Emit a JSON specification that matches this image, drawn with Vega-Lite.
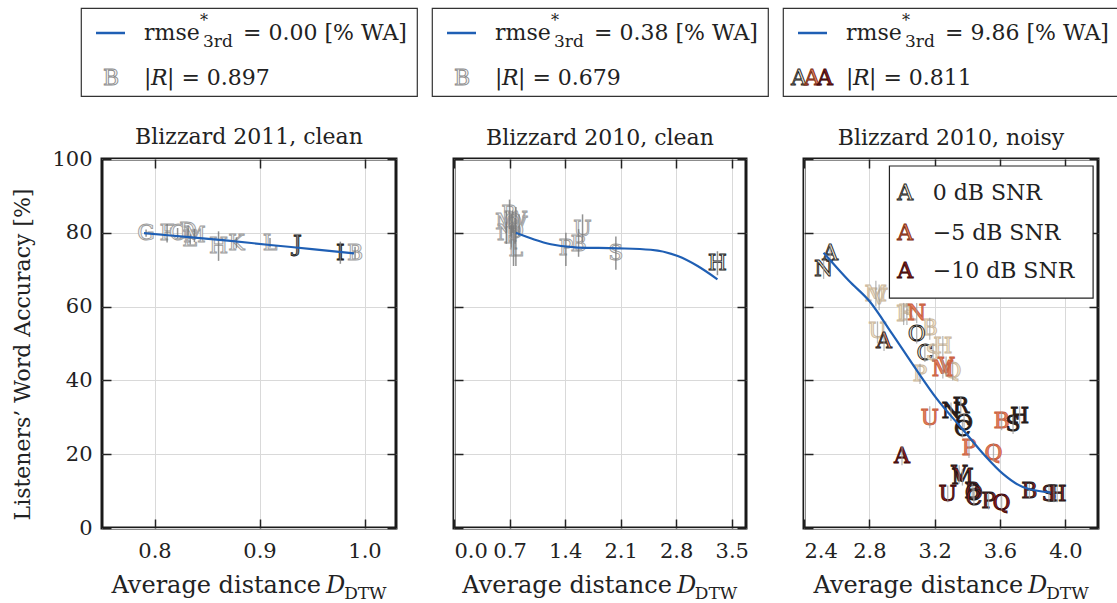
{
"$schema": "https://vega.github.io/schema/vega-lite/v6.json",
"autosize": {"type": "pad"},
"padding": {"left": 10, "top": 7, "right": 0, "bottom": 4},
"background": "white",
"config": {
  "font": "DejaVu Serif",
  "view": {"stroke": "#1a1a1a", "strokeWidth": 3},
  "axis": {"labelFont": "DejaVu Serif", "labelFontSize": 21, "labelColor": "#222", "tickColor": "#222", "tickWidth": 1.5, "tickSize": -9, "domain": false, "gridColor": "#d9d9d9", "gridWidth": 1, "titleFont": "DejaVu Serif", "titleFontSize": 22, "titleFontWeight": "normal", "titleColor": "#222", "labelPadding": 21},
  "title": {"font": "DejaVu Serif", "fontSize": 22, "fontWeight": "normal", "color": "#222", "offset": 8},
  "text": {"font": "DejaVu Serif", "color": "#222"}
},
"datasets": {
  "one": [{}],
  "p1": [
    {"s":"G","d":0.792,"wa":79.9,"lo":78.9,"hi":80.9,"f":"w","e":"lg"},
    {"s":"F","d":0.812,"wa":79.9,"lo":77.4,"hi":82.4,"f":"w","e":"lg"},
    {"s":"C","d":0.822,"wa":79.9,"lo":78.5,"hi":81.3,"f":"w","e":"lg"},
    {"s":"D","d":0.832,"wa":80.4,"lo":78.8,"hi":82.0,"f":"w","e":"lg"},
    {"s":"E","d":0.834,"wa":78.2,"lo":76.8,"hi":79.6,"f":"w","e":"lg"},
    {"s":"M","d":0.838,"wa":79.3,"lo":77.5,"hi":81.1,"f":"w","e":"lg"},
    {"s":"H","d":0.861,"wa":76.4,"lo":72.4,"hi":80.4,"f":"w","e":"lg"},
    {"s":"K","d":0.878,"wa":77.3,"lo":75.8,"hi":78.8,"f":"w","e":"lg"},
    {"s":"L","d":0.910,"wa":77.3,"lo":76.0,"hi":78.6,"f":"w","e":"lg"},
    {"s":"J","d":0.936,"wa":76.9,"lo":74.4,"hi":79.4,"f":"g","e":"dk"},
    {"s":"I","d":0.977,"wa":74.6,"lo":71.6,"hi":77.6,"f":"gd","e":"dk"},
    {"s":"B","d":0.991,"wa":74.6,"lo":73.0,"hi":76.2,"f":"w","e":"lg"}
  ],
  "p1fit": [
    {"d":0.79,"wa":79.9},{"d":0.83,"wa":78.9},{"d":0.87,"wa":77.9},{"d":0.91,"wa":76.7},{"d":0.95,"wa":75.6},{"d":0.99,"wa":74.4}
  ],
  "p2": [
    {"s":"R","d":0.70,"wa":85.0,"lo":81,"hi":89,"f":"w","e":"lg"},
    {"s":"W","d":0.78,"wa":83.5,"lo":80,"hi":87,"f":"w","e":"lg"},
    {"s":"V","d":0.82,"wa":82.0,"lo":79,"hi":85,"f":"w","e":"lg"},
    {"s":"M","d":0.66,"wa":83.0,"lo":80,"hi":86,"f":"w","e":"lg"},
    {"s":"N","d":0.66,"wa":80.0,"lo":77,"hi":83,"f":"w","e":"lg"},
    {"s":"C","d":0.72,"wa":82.0,"lo":79,"hi":85,"f":"w","e":"lg"},
    {"s":"O","d":0.77,"wa":80.5,"lo":77,"hi":84,"f":"w","e":"lg"},
    {"s":"Q","d":0.74,"wa":83.0,"lo":80,"hi":86,"f":"w","e":"lg"},
    {"s":"F","d":0.72,"wa":79.0,"lo":76,"hi":82,"f":"w","e":"lg"},
    {"s":"I","d":0.75,"wa":77.5,"lo":71,"hi":82,"f":"w","e":"lg"},
    {"s":"L","d":0.78,"wa":75.5,"lo":71,"hi":80,"f":"w","e":"lg"},
    {"s":"P","d":1.41,"wa":75.9,"lo":71,"hi":80,"f":"w","e":"lg"},
    {"s":"B","d":1.57,"wa":77.0,"lo":73.5,"hi":81,"f":"w","e":"lg"},
    {"s":"U","d":1.62,"wa":81.0,"lo":77.5,"hi":85,"f":"w","e":"lg"},
    {"s":"S","d":2.04,"wa":74.5,"lo":70,"hi":79,"f":"w","e":"lg"},
    {"s":"H","d":3.32,"wa":71.8,"lo":68.5,"hi":75,"f":"w","e":"dk"}
  ],
  "p2fit": [
    {"d":0.78,"wa":80.0},{"d":1.01,"wa":78.2},{"d":1.22,"wa":76.9},{"d":1.56,"wa":76.0},{"d":2.06,"wa":75.8},{"d":2.48,"wa":75.4},{"d":2.82,"wa":73.7},{"d":3.07,"wa":71.0},{"d":3.32,"wa":67.4}
  ],
  "p3": [
    {"s":"A","d":2.56,"wa":74.6,"lo":72,"hi":77,"f":"b0","e":"dk"},
    {"s":"N","d":2.52,"wa":70.1,"lo":67.5,"hi":72.5,"f":"b0","e":"dk"},
    {"s":"M","d":2.84,"wa":63.4,"lo":60,"hi":67,"f":"b0","e":"lb"},
    {"s":"V","d":2.86,"wa":62.5,"lo":59,"hi":66,"f":"b0","e":"lb"},
    {"s":"F","d":3.01,"wa":58.0,"lo":55,"hi":61,"f":"b0","e":"lb"},
    {"s":"R","d":3.03,"wa":58.3,"lo":55,"hi":61,"f":"b0","e":"lb"},
    {"s":"B","d":3.17,"wa":54.2,"lo":51,"hi":57,"f":"b0","e":"lb"},
    {"s":"U","d":2.85,"wa":53.4,"lo":50,"hi":56,"f":"b0","e":"lb"},
    {"s":"O","d":3.09,"wa":52.6,"lo":50,"hi":55,"f":"b0","e":"dk"},
    {"s":"C","d":3.14,"wa":47.4,"lo":45,"hi":50,"f":"b0","e":"dk"},
    {"s":"S","d":3.19,"wa":47.4,"lo":45,"hi":50,"f":"b0","e":"lb"},
    {"s":"H","d":3.25,"wa":49.3,"lo":46.5,"hi":52,"f":"b0","e":"lb"},
    {"s":"P","d":3.11,"wa":41.7,"lo":39,"hi":44.5,"f":"b0","e":"lb"},
    {"s":"Q","d":3.31,"wa":42.5,"lo":40,"hi":45,"f":"b0","e":"lb"},
    {"s":"A","d":2.89,"wa":50.7,"lo":48,"hi":53,"f":"o5","e":"dk"},
    {"s":"N","d":3.09,"wa":58.3,"lo":55.5,"hi":61,"f":"o5","e":"lo"},
    {"s":"M","d":3.25,"wa":43.1,"lo":40.5,"hi":45.5,"f":"o5","e":"lo"},
    {"s":"V","d":3.27,"wa":43.9,"lo":41,"hi":46.5,"f":"o5","e":"lo"},
    {"s":"U","d":3.17,"wa":29.9,"lo":27,"hi":33,"f":"o5","e":"lo"},
    {"s":"P","d":3.41,"wa":21.8,"lo":19,"hi":24.5,"f":"o5","e":"lo"},
    {"s":"Q","d":3.56,"wa":20.4,"lo":18,"hi":23,"f":"o5","e":"lo"},
    {"s":"B","d":3.61,"wa":29.0,"lo":26.5,"hi":31.5,"f":"o5","e":"lo"},
    {"s":"R","d":3.36,"wa":33.0,"lo":30.5,"hi":35.5,"f":"k","e":"dk"},
    {"s":"O","d":3.38,"wa":28.5,"lo":26,"hi":31,"f":"k","e":"dk"},
    {"s":"C","d":3.37,"wa":26.8,"lo":24.5,"hi":29,"f":"k","e":"dk"},
    {"s":"S","d":3.68,"wa":28.1,"lo":25.5,"hi":30.5,"f":"k","e":"dk"},
    {"s":"H","d":3.72,"wa":30.4,"lo":28,"hi":33,"f":"k","e":"dk"},
    {"s":"N","d":3.30,"wa":31.7,"lo":29,"hi":34,"f":"k","e":"dk"},
    {"s":"A","d":3.00,"wa":19.5,"lo":17,"hi":22,"f":"r10","e":"dr"},
    {"s":"V","d":3.35,"wa":14.5,"lo":12,"hi":17,"f":"r10","e":"dk"},
    {"s":"M","d":3.37,"wa":13.8,"lo":11.5,"hi":16,"f":"r10","e":"dk"},
    {"s":"U","d":3.28,"wa":9.2,"lo":7,"hi":11.5,"f":"r10","e":"dr"},
    {"s":"B","d":3.43,"wa":10.0,"lo":8,"hi":12,"f":"r10","e":"dk"},
    {"s":"O","d":3.44,"wa":9.5,"lo":7.5,"hi":11.5,"f":"r10","e":"dk"},
    {"s":"C","d":3.44,"wa":8.2,"lo":6,"hi":10.5,"f":"r10","e":"dk"},
    {"s":"P","d":3.53,"wa":7.3,"lo":5,"hi":9.5,"f":"r10","e":"dk"},
    {"s":"Q","d":3.61,"wa":6.9,"lo":5,"hi":9,"f":"r10","e":"dr"},
    {"s":"B","d":3.78,"wa":10.0,"lo":8,"hi":12,"f":"r10","e":"dk"},
    {"s":"S","d":3.90,"wa":9.2,"lo":7,"hi":11.5,"f":"r10","e":"dk"},
    {"s":"I","d":3.93,"wa":9.2,"lo":7,"hi":11.5,"f":"r10","e":"dk"},
    {"s":"H","d":3.95,"wa":9.2,"lo":7,"hi":11.5,"f":"r10","e":"dk"}
  ],
  "p3fit": [
    {"d":2.52,"wa":74.6},{"d":2.675,"wa":67.0},{"d":2.80,"wa":61.5},{"d":2.94,"wa":52.6},{"d":3.08,"wa":43.4},{"d":3.21,"wa":35.2},{"d":3.38,"wa":26.3},{"d":3.50,"wa":20.0},{"d":3.62,"wa":14.6},{"d":3.74,"wa":11.1},{"d":3.91,"wa":9.6}
  ]
},
"spacing": 13,
"hconcat": [
 {"vconcat": [
  {"width": 336, "height": 88, "data": {"name": "one"}, "view": {"stroke": "#333", "strokeWidth": 1.2},
   "layer": [
    {"mark": {"type": "rule", "stroke": "#1f5fb4", "strokeWidth": 2.5}, "encoding": {"x": {"datum": 15, "type": "quantitative", "scale": {"domain": [0,336]}, "axis": null}, "x2": {"datum": 44}, "y": {"datum": 25, "type": "quantitative", "scale": {"domain": [0,88], "reverse": true}, "axis": null}}},
    {"mark": {"type": "text", "align": "left", "baseline": "middle", "fontSize": 22, "text": "rmse"}, "encoding": {"x": {"datum": 63, "type": "quantitative", "scale": {"domain": [0,336]}, "axis": null}, "y": {"datum": 25, "type": "quantitative", "scale": {"domain": [0,88], "reverse": true}, "axis": null}}},
    {"mark": {"type": "text", "align": "left", "baseline": "middle", "fontSize": 16, "text": "*"}, "encoding": {"x": {"datum": 119, "type": "quantitative", "scale": {"domain": [0,336]}, "axis": null}, "y": {"datum": 13, "type": "quantitative", "scale": {"domain": [0,88], "reverse": true}, "axis": null}}},
    {"mark": {"type": "text", "align": "left", "baseline": "middle", "fontSize": 17, "text": "3rd"}, "encoding": {"x": {"datum": 122, "type": "quantitative", "scale": {"domain": [0,336]}, "axis": null}, "y": {"datum": 34, "type": "quantitative", "scale": {"domain": [0,88], "reverse": true}, "axis": null}}},
    {"mark": {"type": "text", "align": "left", "baseline": "middle", "fontSize": 22, "text": "= 0.00 [% WA]"}, "encoding": {"x": {"datum": 162, "type": "quantitative", "scale": {"domain": [0,336]}, "axis": null}, "y": {"datum": 25, "type": "quantitative", "scale": {"domain": [0,88], "reverse": true}, "axis": null}}},
    {"mark": {"type": "text", "align": "center", "baseline": "middle", "fontSize": 22, "text": "B", "fill": "#f5f5f5", "stroke": "#8a8a8a", "strokeWidth": 0.9}, "encoding": {"x": {"datum": 30, "type": "quantitative", "scale": {"domain": [0,336]}, "axis": null}, "y": {"datum": 70, "type": "quantitative", "scale": {"domain": [0,88], "reverse": true}, "axis": null}}},
    {"mark": {"type": "text", "align": "left", "baseline": "middle", "fontSize": 22, "text": "|"}, "encoding": {"x": {"datum": 63, "type": "quantitative", "scale": {"domain": [0,336]}, "axis": null}, "y": {"datum": 70, "type": "quantitative", "scale": {"domain": [0,88], "reverse": true}, "axis": null}}},
    {"mark": {"type": "text", "align": "left", "baseline": "middle", "fontSize": 22, "fontStyle": "italic", "text": "R"}, "encoding": {"x": {"datum": 70, "type": "quantitative", "scale": {"domain": [0,336]}, "axis": null}, "y": {"datum": 70, "type": "quantitative", "scale": {"domain": [0,88], "reverse": true}, "axis": null}}},
    {"mark": {"type": "text", "align": "left", "baseline": "middle", "fontSize": 22, "text": "| = 0.897"}, "encoding": {"x": {"datum": 86, "type": "quantitative", "scale": {"domain": [0,336]}, "axis": null}, "y": {"datum": 70, "type": "quantitative", "scale": {"domain": [0,88], "reverse": true}, "axis": null}}}
   ]
  },
  {"width": 294, "height": 369, "title": {"text": "Blizzard 2011, clean", "offset": -1},
   "layer": [
    {"data": {"name": "p1"}, "mark": {"type": "text", "fontSize": 22, "strokeWidth": 0.9, "baseline": "middle"},
     "encoding": {
      "x": {"field": "d", "type": "quantitative", "scale": {"domain": [0.75,1.03], "nice": false, "zero": false}, "axis": {"orient": "bottom", "values": [0.8,0.9,1.0], "format": ".1f", "title": null, "grid": true}},
      "y": {"field": "wa", "type": "quantitative", "scale": {"domain": [0,100], "nice": false, "zero": false}, "axis": {"orient": "left", "values": [0,20,40,60,80,100], "title": "Listeners’ Word Accuracy [%]", "titleY": 195, "titlePadding": 17, "grid": true, "labelPadding": 19}},
      "text": {"field": "s"},
      "fill": {"field": "f", "type": "nominal", "scale": {"domain": ["w","g","gd","b0","o5","r10","k"], "range": ["#f4f4f4","#8f8f8f","#505050","#f2e6d2","#e6835f","#8b1c1c","#3a1a14"]}, "legend": null},
      "stroke": {"field": "e", "type": "nominal", "scale": {"domain": ["lg","dk","lb","lo","dr"], "range": ["#9c9c9c","#1a1a1a","#cbb89c","#c9603f","#3d0a0a"]}, "legend": null}
     }},
    {"data": {"name": "p1"}, "mark": {"type": "rule", "stroke": "#777", "strokeWidth": 1.5, "opacity": 0.8},
     "encoding": {
      "x": {"field": "d", "type": "quantitative", "scale": {"domain": [0.75,1.03], "nice": false, "zero": false}, "axis": null},
      "y": {"field": "lo", "type": "quantitative", "scale": {"domain": [0,100], "nice": false, "zero": false}, "axis": null},
      "y2": {"field": "hi"}
     }},
    {"data": {"name": "p1fit"}, "mark": {"type": "line", "stroke": "#1f5fb4", "strokeWidth": 2.2, "interpolate": "monotone"},
     "encoding": {
      "x": {"field": "d", "type": "quantitative", "scale": {"domain": [0.75,1.03], "nice": false, "zero": false}, "axis": {"orient": "top", "values": [0.8,0.9,1.0], "labels": false, "grid": false, "title": null}},
      "y": {"field": "wa", "type": "quantitative", "scale": {"domain": [0,100], "nice": false, "zero": false}, "axis": {"orient": "right", "values": [0,20,40,60,80,100], "labels": false, "grid": false, "title": null}}
     }},
    {"data": {"name": "one"}, "mark": {"type": "text", "align": "right", "baseline": "alphabetic", "fontSize": 24, "text": "Average distance"},
     "encoding": {"x": {"datum": 0.9586, "type": "quantitative", "scale": {"domain": [0.75,1.03], "nice": false, "zero": false}, "axis": null}, "y": {"datum": -17.6, "type": "quantitative", "scale": {"domain": [0,100], "nice": false, "zero": false}, "axis": null}}},
    {"data": {"name": "one"}, "mark": {"type": "text", "align": "left", "baseline": "alphabetic", "fontSize": 24, "fontStyle": "italic", "text": "D"},
     "encoding": {"x": {"datum": 0.9634, "type": "quantitative", "scale": {"domain": [0.75,1.03], "nice": false, "zero": false}, "axis": null}, "y": {"datum": -17.6, "type": "quantitative", "scale": {"domain": [0,100], "nice": false, "zero": false}, "axis": null}}},
    {"data": {"name": "one"}, "mark": {"type": "text", "align": "left", "baseline": "alphabetic", "fontSize": 17, "text": "DTW"},
     "encoding": {"x": {"datum": 0.9806, "type": "quantitative", "scale": {"domain": [0.75,1.03], "nice": false, "zero": false}, "axis": null}, "y": {"datum": -19.2, "type": "quantitative", "scale": {"domain": [0,100], "nice": false, "zero": false}, "axis": null}}}
   ],
   "resolve": {"axis": {"x": "independent", "y": "independent"}}
  }
 ], "spacing": 63, "center": true, "bounds": "flush"},
 {"vconcat": [
  {"width": 336, "height": 88, "data": {"name": "one"}, "view": {"stroke": "#333", "strokeWidth": 1.2},
   "layer": [
    {"mark": {"type": "rule", "stroke": "#1f5fb4", "strokeWidth": 2.5}, "encoding": {"x": {"datum": 15, "type": "quantitative", "scale": {"domain": [0,336]}, "axis": null}, "x2": {"datum": 44}, "y": {"datum": 25, "type": "quantitative", "scale": {"domain": [0,88], "reverse": true}, "axis": null}}},
    {"mark": {"type": "text", "align": "left", "baseline": "middle", "fontSize": 22, "text": "rmse"}, "encoding": {"x": {"datum": 63, "type": "quantitative", "scale": {"domain": [0,336]}, "axis": null}, "y": {"datum": 25, "type": "quantitative", "scale": {"domain": [0,88], "reverse": true}, "axis": null}}},
    {"mark": {"type": "text", "align": "left", "baseline": "middle", "fontSize": 16, "text": "*"}, "encoding": {"x": {"datum": 119, "type": "quantitative", "scale": {"domain": [0,336]}, "axis": null}, "y": {"datum": 13, "type": "quantitative", "scale": {"domain": [0,88], "reverse": true}, "axis": null}}},
    {"mark": {"type": "text", "align": "left", "baseline": "middle", "fontSize": 17, "text": "3rd"}, "encoding": {"x": {"datum": 122, "type": "quantitative", "scale": {"domain": [0,336]}, "axis": null}, "y": {"datum": 34, "type": "quantitative", "scale": {"domain": [0,88], "reverse": true}, "axis": null}}},
    {"mark": {"type": "text", "align": "left", "baseline": "middle", "fontSize": 22, "text": "= 0.38 [% WA]"}, "encoding": {"x": {"datum": 162, "type": "quantitative", "scale": {"domain": [0,336]}, "axis": null}, "y": {"datum": 25, "type": "quantitative", "scale": {"domain": [0,88], "reverse": true}, "axis": null}}},
    {"mark": {"type": "text", "align": "center", "baseline": "middle", "fontSize": 22, "text": "B", "fill": "#f5f5f5", "stroke": "#8a8a8a", "strokeWidth": 0.9}, "encoding": {"x": {"datum": 30, "type": "quantitative", "scale": {"domain": [0,336]}, "axis": null}, "y": {"datum": 70, "type": "quantitative", "scale": {"domain": [0,88], "reverse": true}, "axis": null}}},
    {"mark": {"type": "text", "align": "left", "baseline": "middle", "fontSize": 22, "text": "|"}, "encoding": {"x": {"datum": 63, "type": "quantitative", "scale": {"domain": [0,336]}, "axis": null}, "y": {"datum": 70, "type": "quantitative", "scale": {"domain": [0,88], "reverse": true}, "axis": null}}},
    {"mark": {"type": "text", "align": "left", "baseline": "middle", "fontSize": 22, "fontStyle": "italic", "text": "R"}, "encoding": {"x": {"datum": 70, "type": "quantitative", "scale": {"domain": [0,336]}, "axis": null}, "y": {"datum": 70, "type": "quantitative", "scale": {"domain": [0,88], "reverse": true}, "axis": null}}},
    {"mark": {"type": "text", "align": "left", "baseline": "middle", "fontSize": 22, "text": "| = 0.679"}, "encoding": {"x": {"datum": 86, "type": "quantitative", "scale": {"domain": [0,336]}, "axis": null}, "y": {"datum": 70, "type": "quantitative", "scale": {"domain": [0,88], "reverse": true}, "axis": null}}}
   ]
  },
  {"width": 292, "height": 369, "title": {"text": "Blizzard 2010, clean"},
   "layer": [
    {"data": {"name": "p2"}, "mark": {"type": "text", "fontSize": 22, "strokeWidth": 0.9, "baseline": "middle"},
     "encoding": {
      "x": {"field": "d", "type": "quantitative", "scale": {"domain": [0,3.68], "nice": false, "zero": false}, "axis": {"orient": "bottom", "values": [0,0.7,1.4,2.1,2.8,3.5], "format": ".1f", "title": null, "grid": true}},
      "y": {"field": "wa", "type": "quantitative", "scale": {"domain": [0,100], "nice": false, "zero": false}, "axis": {"orient": "left", "values": [0,20,40,60,80,100], "labels": false, "title": null, "grid": true}},
      "text": {"field": "s"},
      "fill": {"field": "f", "type": "nominal", "scale": {"domain": ["w","g","gd","b0","o5","r10","k"], "range": ["#f4f4f4","#8f8f8f","#505050","#f2e6d2","#e6835f","#8b1c1c","#3a1a14"]}, "legend": null},
      "stroke": {"field": "e", "type": "nominal", "scale": {"domain": ["lg","dk","lb","lo","dr"], "range": ["#9c9c9c","#1a1a1a","#cbb89c","#c9603f","#3d0a0a"]}, "legend": null}
     }},
    {"data": {"name": "p2"}, "mark": {"type": "rule", "stroke": "#777", "strokeWidth": 1.5, "opacity": 0.8},
     "encoding": {
      "x": {"field": "d", "type": "quantitative", "scale": {"domain": [0,3.68], "nice": false, "zero": false}, "axis": null},
      "y": {"field": "lo", "type": "quantitative", "scale": {"domain": [0,100], "nice": false, "zero": false}, "axis": null},
      "y2": {"field": "hi"}
     }},
    {"data": {"name": "p2fit"}, "mark": {"type": "line", "stroke": "#1f5fb4", "strokeWidth": 2.2, "interpolate": "monotone"},
     "encoding": {
      "x": {"field": "d", "type": "quantitative", "scale": {"domain": [0,3.68], "nice": false, "zero": false}, "axis": {"orient": "top", "values": [0,0.7,1.4,2.1,2.8,3.5], "labels": false, "grid": false, "title": null}},
      "y": {"field": "wa", "type": "quantitative", "scale": {"domain": [0,100], "nice": false, "zero": false}, "axis": {"orient": "right", "values": [0,20,40,60,80,100], "labels": false, "grid": false, "title": null}}
     }},
    {"data": {"name": "one"}, "mark": {"type": "text", "align": "right", "baseline": "alphabetic", "fontSize": 24, "text": "Average distance"},
     "encoding": {"x": {"datum": 2.746, "type": "quantitative", "scale": {"domain": [0,3.68], "nice": false, "zero": false}, "axis": null}, "y": {"datum": -17.6, "type": "quantitative", "scale": {"domain": [0,100], "nice": false, "zero": false}, "axis": null}}},
    {"data": {"name": "one"}, "mark": {"type": "text", "align": "left", "baseline": "alphabetic", "fontSize": 24, "fontStyle": "italic", "text": "D"},
     "encoding": {"x": {"datum": 2.809, "type": "quantitative", "scale": {"domain": [0,3.68], "nice": false, "zero": false}, "axis": null}, "y": {"datum": -17.6, "type": "quantitative", "scale": {"domain": [0,100], "nice": false, "zero": false}, "axis": null}}},
    {"data": {"name": "one"}, "mark": {"type": "text", "align": "left", "baseline": "alphabetic", "fontSize": 17, "text": "DTW"},
     "encoding": {"x": {"datum": 3.035, "type": "quantitative", "scale": {"domain": [0,3.68], "nice": false, "zero": false}, "axis": null}, "y": {"datum": -19.2, "type": "quantitative", "scale": {"domain": [0,100], "nice": false, "zero": false}, "axis": null}}}
   ],
   "resolve": {"axis": {"x": "independent", "y": "independent"}}
  }
 ], "spacing": 63, "center": true, "bounds": "flush"},
 {"vconcat": [
  {"width": 336, "height": 88, "data": {"name": "one"}, "view": {"stroke": "#333", "strokeWidth": 1.2},
   "layer": [
    {"mark": {"type": "rule", "stroke": "#1f5fb4", "strokeWidth": 2.5}, "encoding": {"x": {"datum": 15, "type": "quantitative", "scale": {"domain": [0,336]}, "axis": null}, "x2": {"datum": 44}, "y": {"datum": 25, "type": "quantitative", "scale": {"domain": [0,88], "reverse": true}, "axis": null}}},
    {"mark": {"type": "text", "align": "left", "baseline": "middle", "fontSize": 22, "text": "rmse"}, "encoding": {"x": {"datum": 63, "type": "quantitative", "scale": {"domain": [0,336]}, "axis": null}, "y": {"datum": 25, "type": "quantitative", "scale": {"domain": [0,88], "reverse": true}, "axis": null}}},
    {"mark": {"type": "text", "align": "left", "baseline": "middle", "fontSize": 16, "text": "*"}, "encoding": {"x": {"datum": 119, "type": "quantitative", "scale": {"domain": [0,336]}, "axis": null}, "y": {"datum": 13, "type": "quantitative", "scale": {"domain": [0,88], "reverse": true}, "axis": null}}},
    {"mark": {"type": "text", "align": "left", "baseline": "middle", "fontSize": 17, "text": "3rd"}, "encoding": {"x": {"datum": 122, "type": "quantitative", "scale": {"domain": [0,336]}, "axis": null}, "y": {"datum": 34, "type": "quantitative", "scale": {"domain": [0,88], "reverse": true}, "axis": null}}},
    {"mark": {"type": "text", "align": "left", "baseline": "middle", "fontSize": 22, "text": "= 9.86 [% WA]"}, "encoding": {"x": {"datum": 162, "type": "quantitative", "scale": {"domain": [0,336]}, "axis": null}, "y": {"datum": 25, "type": "quantitative", "scale": {"domain": [0,88], "reverse": true}, "axis": null}}},
    {"mark": {"type": "text", "align": "center", "baseline": "middle", "fontSize": 22, "text": "A", "fill": "#f2e6d2", "stroke": "#1a1a1a", "strokeWidth": 0.9}, "encoding": {"x": {"datum": 16, "type": "quantitative", "scale": {"domain": [0,336]}, "axis": null}, "y": {"datum": 70, "type": "quantitative", "scale": {"domain": [0,88], "reverse": true}, "axis": null}}},
    {"mark": {"type": "text", "align": "center", "baseline": "middle", "fontSize": 22, "text": "A", "fill": "#e6835f", "stroke": "#7a2a10", "strokeWidth": 0.9}, "encoding": {"x": {"datum": 29, "type": "quantitative", "scale": {"domain": [0,336]}, "axis": null}, "y": {"datum": 70, "type": "quantitative", "scale": {"domain": [0,88], "reverse": true}, "axis": null}}},
    {"mark": {"type": "text", "align": "center", "baseline": "middle", "fontSize": 22, "text": "A", "fill": "#8b1c1c", "stroke": "#3d0a0a", "strokeWidth": 0.9}, "encoding": {"x": {"datum": 42, "type": "quantitative", "scale": {"domain": [0,336]}, "axis": null}, "y": {"datum": 70, "type": "quantitative", "scale": {"domain": [0,88], "reverse": true}, "axis": null}}},
    {"mark": {"type": "text", "align": "left", "baseline": "middle", "fontSize": 22, "text": "|"}, "encoding": {"x": {"datum": 63, "type": "quantitative", "scale": {"domain": [0,336]}, "axis": null}, "y": {"datum": 70, "type": "quantitative", "scale": {"domain": [0,88], "reverse": true}, "axis": null}}},
    {"mark": {"type": "text", "align": "left", "baseline": "middle", "fontSize": 22, "fontStyle": "italic", "text": "R"}, "encoding": {"x": {"datum": 70, "type": "quantitative", "scale": {"domain": [0,336]}, "axis": null}, "y": {"datum": 70, "type": "quantitative", "scale": {"domain": [0,88], "reverse": true}, "axis": null}}},
    {"mark": {"type": "text", "align": "left", "baseline": "middle", "fontSize": 22, "text": "| = 0.811"}, "encoding": {"x": {"datum": 86, "type": "quantitative", "scale": {"domain": [0,336]}, "axis": null}, "y": {"datum": 70, "type": "quantitative", "scale": {"domain": [0,88], "reverse": true}, "axis": null}}}
   ]
  },
  {"width": 294, "height": 369, "title": {"text": "Blizzard 2010, noisy"},
   "layer": [
    {"data": {"name": "p3"}, "mark": {"type": "text", "fontSize": 22, "strokeWidth": 0.9, "baseline": "middle"},
     "encoding": {
      "x": {"field": "d", "type": "quantitative", "scale": {"domain": [2.4,4.2], "nice": false, "zero": false}, "axis": {"orient": "bottom", "values": [2.4,2.8,3.2,3.6,4.0], "format": ".1f", "title": null, "grid": true}},
      "y": {"field": "wa", "type": "quantitative", "scale": {"domain": [0,100], "nice": false, "zero": false}, "axis": {"orient": "left", "values": [0,20,40,60,80,100], "labels": false, "title": null, "grid": true}},
      "text": {"field": "s"},
      "fill": {"field": "f", "type": "nominal", "scale": {"domain": ["w","g","gd","b0","o5","r10","k"], "range": ["#f4f4f4","#8f8f8f","#505050","#f2e6d2","#e6835f","#8b1c1c","#3a1a14"]}, "legend": null},
      "stroke": {"field": "e", "type": "nominal", "scale": {"domain": ["lg","dk","lb","lo","dr"], "range": ["#9c9c9c","#1a1a1a","#cbb89c","#c9603f","#3d0a0a"]}, "legend": null}
     }},
    {"data": {"name": "p3"}, "mark": {"type": "rule", "stroke": "#999", "strokeWidth": 1.3, "opacity": 0.7},
     "encoding": {
      "x": {"field": "d", "type": "quantitative", "scale": {"domain": [2.4,4.2], "nice": false, "zero": false}, "axis": null},
      "y": {"field": "lo", "type": "quantitative", "scale": {"domain": [0,100], "nice": false, "zero": false}, "axis": null},
      "y2": {"field": "hi"}
     }},
    {"data": {"name": "p3fit"}, "mark": {"type": "line", "stroke": "#1f5fb4", "strokeWidth": 2.2, "interpolate": "monotone"},
     "encoding": {
      "x": {"field": "d", "type": "quantitative", "scale": {"domain": [2.4,4.2], "nice": false, "zero": false}, "axis": {"orient": "top", "values": [2.4,2.8,3.2,3.6,4.0], "labels": false, "grid": false, "title": null}},
      "y": {"field": "wa", "type": "quantitative", "scale": {"domain": [0,100], "nice": false, "zero": false}, "axis": {"orient": "right", "values": [0,20,40,60,80,100], "labels": false, "grid": false, "title": null}}
     }},
    {"data": {"name": "one"}, "mark": {"type": "rect", "fill": "white", "stroke": "#222", "strokeWidth": 1.2},
     "encoding": {"x": {"datum": 2.923, "type": "quantitative", "scale": {"domain": [2.4,4.2], "nice": false, "zero": false}, "axis": null}, "x2": {"datum": 4.17}, "y": {"datum": 98.1, "type": "quantitative", "scale": {"domain": [0,100], "nice": false, "zero": false}, "axis": null}, "y2": {"datum": 62.3}}},
    {"data": {"name": "one"}, "mark": {"type": "text", "align": "center", "baseline": "middle", "fontSize": 22, "text": "A", "fill": "#f2e6d2", "stroke": "#1a1a1a", "strokeWidth": 0.9},
     "encoding": {"x": {"datum": 3.02, "type": "quantitative", "scale": {"domain": [2.4,4.2], "nice": false, "zero": false}, "axis": null}, "y": {"datum": 90.8, "type": "quantitative", "scale": {"domain": [0,100], "nice": false, "zero": false}, "axis": null}}},
    {"data": {"name": "one"}, "mark": {"type": "text", "align": "center", "baseline": "middle", "fontSize": 22, "text": "A", "fill": "#e6835f", "stroke": "#7a2a10", "strokeWidth": 0.9},
     "encoding": {"x": {"datum": 3.02, "type": "quantitative", "scale": {"domain": [2.4,4.2], "nice": false, "zero": false}, "axis": null}, "y": {"datum": 79.9, "type": "quantitative", "scale": {"domain": [0,100], "nice": false, "zero": false}, "axis": null}}},
    {"data": {"name": "one"}, "mark": {"type": "text", "align": "center", "baseline": "middle", "fontSize": 22, "text": "A", "fill": "#8b1c1c", "stroke": "#3d0a0a", "strokeWidth": 0.9},
     "encoding": {"x": {"datum": 3.02, "type": "quantitative", "scale": {"domain": [2.4,4.2], "nice": false, "zero": false}, "axis": null}, "y": {"datum": 69.6, "type": "quantitative", "scale": {"domain": [0,100], "nice": false, "zero": false}, "axis": null}}},
    {"data": {"name": "one"}, "mark": {"type": "text", "align": "left", "baseline": "middle", "fontSize": 22, "text": "0 dB SNR"},
     "encoding": {"x": {"datum": 3.188, "type": "quantitative", "scale": {"domain": [2.4,4.2], "nice": false, "zero": false}, "axis": null}, "y": {"datum": 90.8, "type": "quantitative", "scale": {"domain": [0,100], "nice": false, "zero": false}, "axis": null}}},
    {"data": {"name": "one"}, "mark": {"type": "text", "align": "left", "baseline": "middle", "fontSize": 22, "text": "−5 dB SNR"},
     "encoding": {"x": {"datum": 3.188, "type": "quantitative", "scale": {"domain": [2.4,4.2], "nice": false, "zero": false}, "axis": null}, "y": {"datum": 79.9, "type": "quantitative", "scale": {"domain": [0,100], "nice": false, "zero": false}, "axis": null}}},
    {"data": {"name": "one"}, "mark": {"type": "text", "align": "left", "baseline": "middle", "fontSize": 22, "text": "−10 dB SNR"},
     "encoding": {"x": {"datum": 3.188, "type": "quantitative", "scale": {"domain": [2.4,4.2], "nice": false, "zero": false}, "axis": null}, "y": {"datum": 69.6, "type": "quantitative", "scale": {"domain": [0,100], "nice": false, "zero": false}, "axis": null}}},
    {"data": {"name": "one"}, "mark": {"type": "text", "align": "right", "baseline": "alphabetic", "fontSize": 24, "text": "Average distance"},
     "encoding": {"x": {"datum": 3.7415, "type": "quantitative", "scale": {"domain": [2.4,4.2], "nice": false, "zero": false}, "axis": null}, "y": {"datum": -17.6, "type": "quantitative", "scale": {"domain": [0,100], "nice": false, "zero": false}, "axis": null}}},
    {"data": {"name": "one"}, "mark": {"type": "text", "align": "left", "baseline": "alphabetic", "fontSize": 24, "fontStyle": "italic", "text": "D"},
     "encoding": {"x": {"datum": 3.772, "type": "quantitative", "scale": {"domain": [2.4,4.2], "nice": false, "zero": false}, "axis": null}, "y": {"datum": -17.6, "type": "quantitative", "scale": {"domain": [0,100], "nice": false, "zero": false}, "axis": null}}},
    {"data": {"name": "one"}, "mark": {"type": "text", "align": "left", "baseline": "alphabetic", "fontSize": 17, "text": "DTW"},
     "encoding": {"x": {"datum": 3.883, "type": "quantitative", "scale": {"domain": [2.4,4.2], "nice": false, "zero": false}, "axis": null}, "y": {"datum": -19.2, "type": "quantitative", "scale": {"domain": [0,100], "nice": false, "zero": false}, "axis": null}}}
   ],
   "resolve": {"axis": {"x": "independent", "y": "independent"}}
  }
 ], "spacing": 63, "center": true, "bounds": "flush"}
]
}
